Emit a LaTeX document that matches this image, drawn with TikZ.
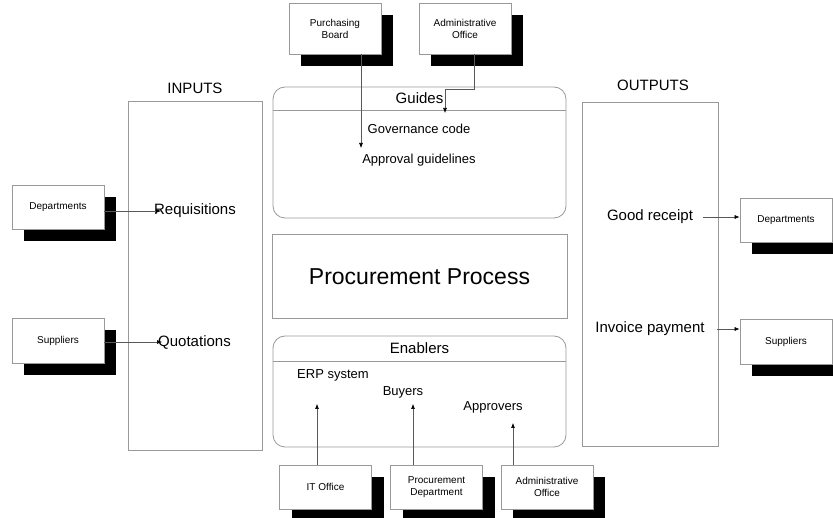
\documentclass[tikz,border=0pt]{standalone}
\usepackage{fontspec}
\setmainfont{Liberation Sans}
\usetikzlibrary{arrows.meta,shadows}
\begin{document}
\begin{tikzpicture}[x=1pt,y=-1pt,
  frame/.style={draw=gray!80, line width=0.8pt, inner sep=0pt},
  ent/.style={draw=gray!80, fill=white, line width=0.7pt, minimum width=92pt,
    minimum height=44pt, align=center, inner sep=1pt,
    font=\fontsize{10}{12}\selectfont,
    general shadow={fill=black, draw=none, shadow xshift=12pt, shadow yshift=-12pt}},
  arr/.style={draw=black!65, line width=0.6pt, -{Latex[length=5pt,width=4pt,color=black]}},
  lbl/.style={font=\fontsize{15}{18}\selectfont, inner sep=0pt},
  item/.style={font=\fontsize{13}{15}\selectfont, inner sep=0pt}]
\useasboundingbox (0,0) rectangle (833,518);
\fill[white] (0,0) rectangle (833,518);

% frames
\node[frame, minimum width=134pt, minimum height=349pt] (inbox) at (195,275.5) {};
\node[frame, minimum width=136pt, minimum height=344pt] (outbox) at (650,274) {};
\node[lbl] (inlbl) at (195,88) {INPUTS};
\node[lbl] (outlbl) at (653,85) {OUTPUTS};

\node[frame, rounded corners=12pt, minimum width=293pt, minimum height=131pt] (guides) at (419.5,152.5) {};
\coordinate (gh) at (0,110);
\draw[draw=gray!80, line width=0.8pt] (guides.west |- gh) -- (guides.east |- gh);
\node[lbl] (gtitle) at (419.5,98.5) {Guides};
\node[item] (gov) at (419,129) {Governance code};
\node[item] (appr) at (419,160) {Approval guidelines};

\node[frame, minimum width=295pt, minimum height=84pt] (proc) at (419.5,276) {};
\node[font=\fontsize{23}{26}\selectfont, inner sep=0pt] (proctxt) at (419.5,277) {Procurement Process};

\node[frame, rounded corners=12pt, minimum width=293pt, minimum height=111pt] (enab) at (419.5,391.5) {};
\coordinate (eh) at (0,361);
\draw[draw=gray!80, line width=0.8pt] (enab.west |- eh) -- (enab.east |- eh);
\node[lbl] (etitle) at (419.5,348) {Enablers};
\node[item] (erp) at (333,375) {ERP system};
\node[item] (buy) at (403,392) {Buyers};
\node[item] (appv) at (493,407) {Approvers};

% inputs / outputs text
\node[lbl] (req) at (195,211) {Requisitions};
\node[lbl] (quot) at (194.5,342) {Quotations};
\node[lbl] (gr) at (650,217) {Good receipt};
\node[lbl] (inv) at (650,329) {Invoice payment};

% entity boxes
\node[ent, minimum height=51pt] (pb) at (335,28.5) {Purchasing\\Board};
\node[ent, minimum height=51pt] (ao1) at (465,28.5) {Administrative\\Office};
\node[ent] (dl) at (58,207) {Departments};
\node[ent, minimum height=45pt] (sl) at (58,340.5) {Suppliers};
\node[ent] (dr) at (786,220) {Departments};
\node[ent, minimum height=45pt] (sr) at (786,341.5) {Suppliers};
\node[ent] (it) at (325.5,487) {IT Office};
\node[ent] (pd) at (436.5,487) {Procurement\\Department};
\node[ent] (ao2) at (547,487) {Administrative\\Office};

% connector end points
\coordinate (pbend) at (361,148);
\coordinate (ao1a) at (474,89);
\coordinate (ao1b) at (445,89);
\coordinate (ao1end) at (445,113);
\coordinate (reqend) at (161,211);
\coordinate (quotend) at (162,342);
\coordinate (grstart) at (703,217);
\coordinate (invstart) at (717,329);
\coordinate (itend) at (317,404);
\coordinate (pdend) at (413,404);
\coordinate (ao2end) at (513,423);

% connectors
\draw[arr] (pb.south -| pbend) -- (pbend);
\draw[arr] (ao1.south -| ao1a) -- (ao1a) -- (ao1b) -- (ao1end);
\draw[arr] (dl.east |- reqend) -- (reqend);
\draw[arr] (sl.east |- quotend) -- (quotend);
\draw[arr] (grstart) -- (dr.west |- grstart);
\draw[arr] (invstart) -- (sr.west |- invstart);
\draw[arr] (it.north -| itend) -- (itend);
\draw[arr] (pd.north -| pdend) -- (pdend);
\draw[arr] (ao2.north -| ao2end) -- (ao2end);
\end{tikzpicture}
\end{document}
